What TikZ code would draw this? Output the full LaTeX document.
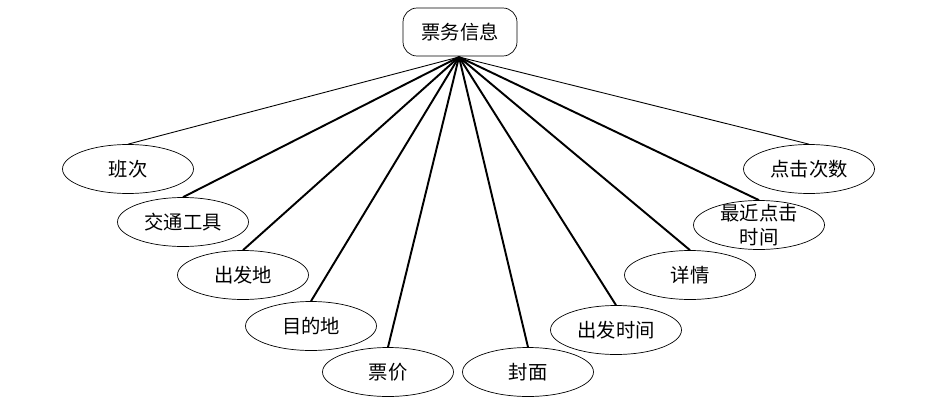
\documentclass[tikz,border=0pt]{standalone}
\usepackage{fontspec}
\newfontfamily\cjk{Noto Sans CJK SC}
\usetikzlibrary{shapes.geometric}
\begin{document}
\begin{tikzpicture}[
      x=0.02cm, y=-0.02cm,
      entity/.style={draw, rounded corners=8pt, minimum width=2.28cm,
                     minimum height=0.96cm, font=\fontsize{11}{14}\cjk},
      attr/.style={draw, ellipse, minimum width=2.62cm, minimum height=0.98cm,
                   inner sep=0pt, font=\fontsize{11}{14}\cjk, align=center},
      link/.style={line width=1.1pt},
      thinlink/.style={line width=0.5pt}
    ]
      \useasboundingbox (0,0) rectangle (926,419);
      \node[entity] (ticket) at (460,32) {票务信息};
      \coordinate (hub) at (459,57);
      % attributes, left to right
      \node[attr] (banci)  at (128,169) {班次};
      \node[attr] (tool)   at (183,222) {交通工具};
      \node[attr] (from)   at (243,275) {出发地};
      \node[attr] (to)     at (311,326) {目的地};
      \node[attr] (price)  at (388,372) {票价};
      \node[attr] (cover)  at (528,372) {封面};
      \node[attr] (dtime)  at (616,330) {出发时间};
      \node[attr] (detail) at (690,275) {详情};
      \node[attr, label={[font=\fontsize{11}{14}\cjk, align=center]center:最近点击\\时间}]
        (recent) at (759,225) {};
      \node[attr] (clicks) at (809,169) {点击次数};
      \draw[thinlink] (hub) -- (banci.north);
      \draw[thinlink] (hub) -- (clicks.north);
      \foreach \n in {tool,from,to,price,cover,dtime,detail,recent} {
        \draw[link] (hub) -- (\n.north);
      }
    \end{tikzpicture}
\end{document}
